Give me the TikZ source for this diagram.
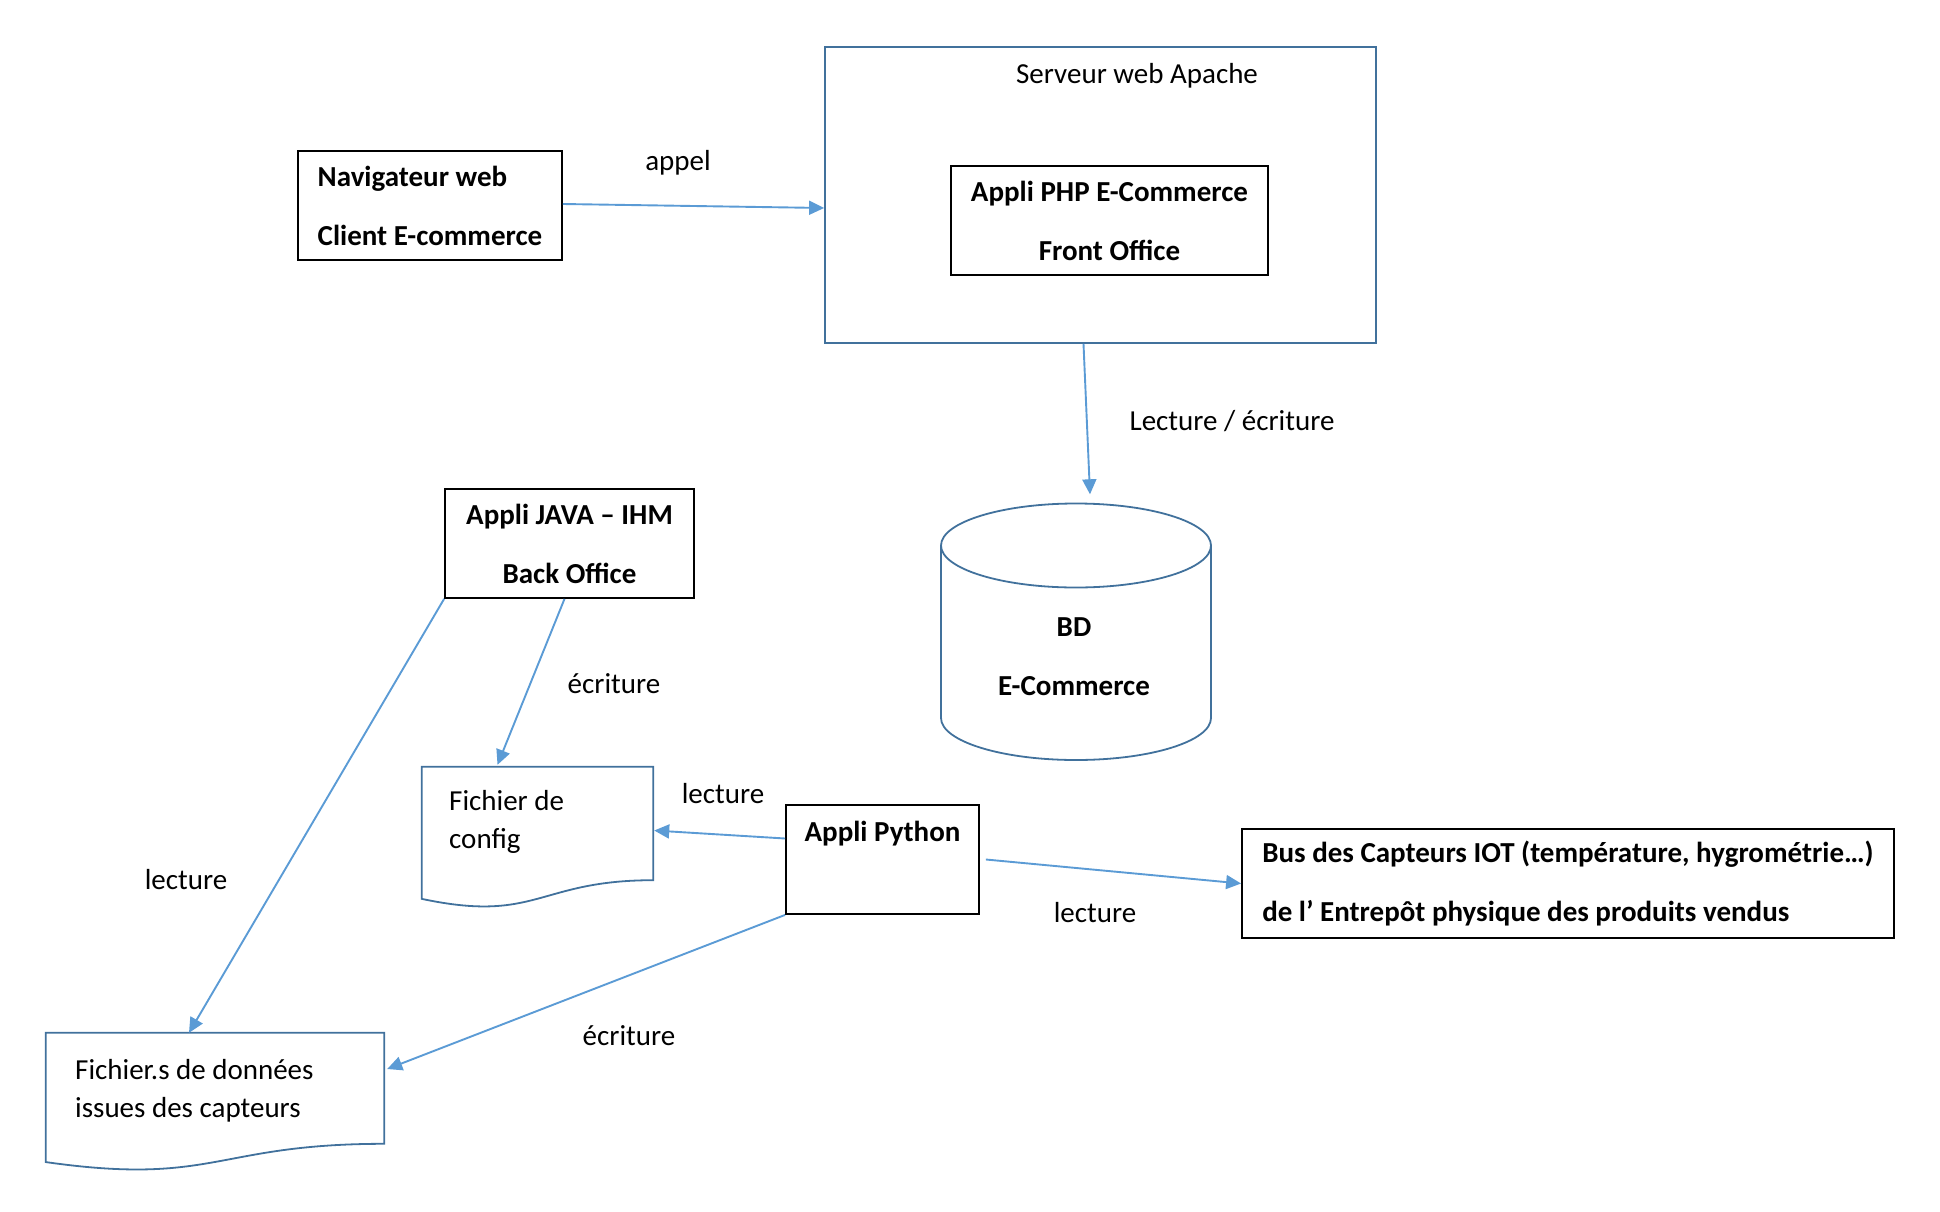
\documentclass[tikz,border=0pt]{standalone}
\usepackage{fontspec}
\setmainfont{Carlito}
\usetikzlibrary{arrows.meta,calc}
\definecolor{arrowblue}{HTML}{5B9BD5}
\definecolor{shapeblue}{HTML}{41719C}
\begin{document}
\begin{tikzpicture}[x=1pt,y=-1pt,
  txt/.style={font=\fontsize{29}{35}\selectfont, inner sep=0pt},
  boxtxt/.style={font=\fontsize{29}{59}\selectfont\bfseries},
  blackbox/.style={draw=black, line width=1.8pt, boxtxt, inner sep=0pt},
  blueframe/.style={draw=shapeblue, line width=1.8pt},
  docline/.style={draw=shapeblue, line width=1.8pt},
  doctxt/.style={font=\fontsize{29}{38}\selectfont, align=left, inner sep=0pt, anchor=base west},
  flow/.style={draw=arrowblue, line width=1.9pt, -{Triangle[length=15pt,width=14pt]}},
]
\useasboundingbox (0,0) rectangle (1940,1212);

% ---- web server and its PHP application
\node[blueframe, minimum width=551, minimum height=296, inner sep=0pt] (server) at (1100.5,195) {};
\node[txt] (servertitle) at (1137,76) {Serveur web Apache};
\node[blackbox, align=center, minimum width=317, minimum height=109] (php) at (1109.5,220.5)
  {\raisebox{-3pt}{Appli PHP E-Commerce}\\\raisebox{-3pt}{Front Office}};

% ---- browser
\node[blackbox, align=left, minimum width=264, minimum height=109] (nav) at (430,205.5)
  {Navigateur web\\Client E-commerce};

% ---- database cylinder
\node[minimum width=270, minimum height=257, inner sep=0pt] (db) at (1076,632) {};
\node[boxtxt, align=center, inner sep=0pt] (dbtxt) at (1074,657) {BD\\E-Commerce};
\draw[blueframe] (941,545.5) -- (941,718)
  arc[start angle=180, end angle=0, x radius=135, y radius=42] -- (1211,545.5);
\draw[blueframe] (1076,545.5) ellipse [x radius=135, y radius=42];

% ---- back office application
\node[blackbox, align=center, minimum width=249, minimum height=109] (java) at (569.5,543.5)
  {\raisebox{-3pt}{Appli JAVA -- IHM}\\\raisebox{-3pt}{Back Office}};

% ---- python application
\node[blackbox, align=center, minimum width=193, minimum height=109] (python) at (882.5,859.5)
  {Appli Python\\[-20pt]\strut};

% ---- sensor bus
\node[blackbox, align=left, minimum width=652, minimum height=109] (bus) at (1568,883.5)
  {Bus des Capteurs IOT (température, hygrométrie…)\\de l’ Entrepôt physique des produits vendus};

% ---- document shapes
\newcommand\docoutline[1]{%
  \draw[docline] (#1.north west) -- (#1.north east)
    -- ($(#1.north east)!0.802!(#1.south east)$)
    .. controls ($(#1.north)!0.802!(#1.south)$) and ($(#1.north)!1.108!(#1.south)$)
    .. ($(#1.north west)!0.934!(#1.south west)$) -- cycle;}

\node[minimum width=231, minimum height=141, inner sep=0pt] (config) at (537.5,837.5) {};
\docoutline{config}
\node[doctxt] (configtxt) at (449,848) {Fichier de\\config};

\node[minimum width=338, minimum height=138, inner sep=0pt] (data) at (215,1102) {};
\docoutline{data}
\node[doctxt] (datatxt) at (75,1117) {Fichier.s de données\\issues des capteurs};

% ---- connectors
\draw[flow] ($(nav.east)+(0,-1.5)$) -- ($(server.west)+(0,13)$);
\draw[flow] ($(server.south)+(-17,0)$) -- ($(db.north)+(14,-9)$);
\draw[flow] ($(java.south)+(-5,0)$) -- ($(config.north)+(-40,-2)$);
\draw[flow] (java.south west) -- ($(data.north)+(-26,0)$);
\draw[flow] ($(python.west)+(0,-21)$) -- ($(config.east)+(1,-7)$);
\draw[flow] ($(python.east)+(6,0)$) -- (bus.west);
\draw[flow] (python.south west) -- ($(data.east)+(3,-33)$);

% ---- connector labels
\node[txt] (lblappel) at (678,163) {appel};
\node[txt] (lbldb) at (1232,421) {Lecture / écriture};
\node[txt] (lblconfw) at (614,684) {écriture};
\node[txt] (lblconfr) at (723,794) {lecture};
\node[txt] (lblbus) at (1095,913) {lecture};
\node[txt] (lbldatar) at (186,880) {lecture};
\node[txt] (lbldataw) at (629,1036) {écriture};
\end{tikzpicture}
\end{document}
